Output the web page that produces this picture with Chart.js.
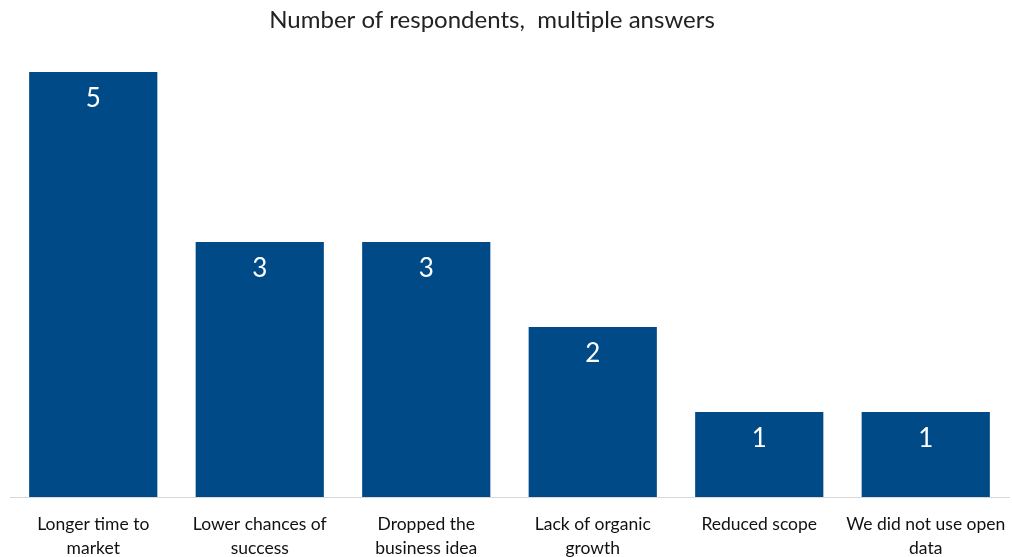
<!DOCTYPE html>
<html>
<head>
<meta charset="utf-8">
<script src="https://cdn.jsdelivr.net/npm/chart.js@4"></script>
<style>
  html, body { margin: 0; padding: 0; background: #fff; }
  #wrap { width: 1012px; height: 557px; }
</style>
</head>
<body>
<div id="wrap"><canvas id="c" width="1012" height="557"></canvas></div>
<script>
const categories = [
  ["Longer time to", "market"],
  ["Lower chances of", "success"],
  ["Dropped the", "business idea"],
  ["Lack of organic", "growth"],
  ["Reduced scope"],
  ["We did not use open", "data"]
];
const respondents = [5, 3, 3, 2, 1, 1];
const chartTitle = "Number of respondents,  multiple answers";

const FONT = "Lato, 'Open Sans', sans-serif";

// Heading above the plot, placed slightly left of the canvas centre
const headingPlugin = {
  id: "heading",
  afterDraw(chart) {
    const ctx = chart.ctx;
    ctx.save();
    ctx.fillStyle = "#222222";
    ctx.font = "24px " + FONT;
    ctx.textAlign = "center";
    ctx.textBaseline = "middle";
    ctx.fillText(chartTitle, 492, 20);
    ctx.restore();
  }
};

// Writes each bar's value in white just below its top edge
const valueLabels = {
  id: "valueLabels",
  afterDatasetsDraw(chart) {
    const ctx = chart.ctx;
    const meta = chart.getDatasetMeta(0);
    ctx.save();
    ctx.fillStyle = "#ffffff";
    ctx.font = "26px " + FONT;
    ctx.textAlign = "center";
    ctx.textBaseline = "alphabetic";
    meta.data.forEach((bar, i) => {
      ctx.fillText(String(chart.data.datasets[0].data[i]), bar.x, bar.y + 35);
    });
    ctx.restore();
  }
};

new Chart(document.getElementById("c"), {
  type: "bar",
  data: {
    labels: categories,
    datasets: [{
      data: respondents,
      backgroundColor: "#004b87",
      categoryPercentage: 1,
      barPercentage: 0.77
    }]
  },
  options: {
    responsive: false,
    animation: false,
    layout: { padding: { left: 10, right: 3, top: 72, bottom: -18 } },
    plugins: {
      legend: { display: false },
      tooltip: { enabled: false },
      title: { display: false }
    },
    scales: {
      x: {
        grid: { display: false, drawTicks: false },
        border: { display: true, color: "#d9d9d9", width: 1 },
        ticks: {
          color: "#111111",
          padding: 15,
          maxRotation: 0,
          autoSkip: false,
          font: { family: FONT, size: 17.5, lineHeight: 1.37 }
        },
        // let the edge labels overhang instead of shrinking the plot
        afterFit(scale) {
          scale.paddingLeft = 0;
          scale.paddingRight = 0;
        }
      },
      y: {
        display: false,
        min: 0,
        max: 5
      }
    }
  },
  plugins: [valueLabels, headingPlugin]
});
</script>
</body>
</html>
